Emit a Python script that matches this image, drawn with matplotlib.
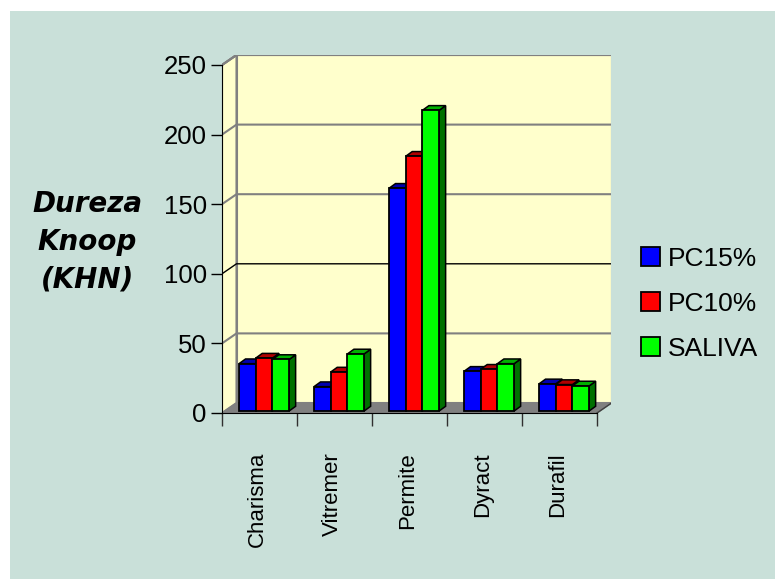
import matplotlib
matplotlib.use('Agg')
import matplotlib.pyplot as plt
from matplotlib.patches import Rectangle, Polygon
import numpy as np

plt.rcParams['font.family'] = ['Liberation Sans', 'DejaVu Sans']

materials = ['Charisma', 'Vitremer', 'Permite', 'Dyract', 'Durafil']
series = ['PC15%', 'PC10%', 'SALIVA']
pc15 = [34, 17.5, 160, 28.5, 19.5]
pc10 = [38, 28, 183, 30, 19]
saliva = [37, 41, 216, 34, 18]
y_ticks = [0, 50, 100, 150, 200, 250]

colors = ['#0000FF', '#FF0000', '#00FF00']
tops = ['#0000B0', '#B00000', '#00B000']
sides = ['#000080', '#800000', '#007000']
bg = '#C9E0D9'
wall = '#FFFFCC'
grey = '#808080'

W, H = 775, 579
fig = plt.figure(figsize=(W / 100, H / 100), dpi=100)
fig.patch.set_facecolor('white')
fig.add_artist(Rectangle((10 / W, 0), 1, 1 - 11 / H, transform=fig.transFigure,
                         facecolor=bg, edgecolor='none', zorder=-10))

# axes box: front axis at x=222px, back wall right at 611px, 0 at y=413px, top at 55px
ppu_x = 75.0
ppu_y = 1.392
ax = fig.add_axes([222 / W, (H - 413) / H, 389 / W, 358 / H])
ax.set_facecolor('none')
ax.set_xlim(-0.5, -0.5 + 389 / ppu_x)
ax.set_ylim(0, 358 / ppu_y)

DX, DY = 14.5 / ppu_x, 10 / ppu_y
n = len(materials)
x_lo, x_hi = -0.5, n - 0.5

# walls and floor
ax.add_patch(Rectangle((x_lo + DX, DY), n, 250, facecolor=wall, edgecolor=grey, lw=1.5, zorder=0))
ax.add_patch(Polygon([(x_lo, 0), (x_lo + DX, DY), (x_lo + DX, 250 + DY), (x_lo, 250)],
                     facecolor=wall, edgecolor=grey, lw=1.5, zorder=0))
ax.add_patch(Polygon([(x_lo, 0), (x_hi, 0), (x_hi + DX, DY), (x_lo + DX, DY)],
                     facecolor=grey, edgecolor=grey, lw=1, zorder=0.6))
for v in y_ticks[1:]:
    c = 'black' if v == 100 else grey
    lw = 1 if v == 100 else 1.5
    ax.plot([x_lo, x_lo + DX, x_hi + DX], [v, v + DY, v + DY], color=c, lw=lw, zorder=0.5)
ax.plot([x_lo, x_lo + DX], [250, 250 + DY], color=grey, lw=1.5, zorder=0.5)

# bars
bw = 16.7 / ppu_x
b0 = 0.2 * DY
bdx, bdy = 6.5 / ppu_x, 4.7 / ppu_y
centers = np.arange(n) + 0.061
handles = []
z = 2
for k, vals in enumerate([pc15, pc10, saliva]):
    xs = centers + (k - 1) * bw
    bars = ax.bar(xs, vals, bw, bottom=b0, color=colors[k], edgecolor='black',
                  lw=1.3, label=series[k], zorder=z + k)
    handles.append(bars)
for i in range(n):
    for k, vals in enumerate([pc15, pc10, saliva]):
        x0 = centers[i] + (k - 1) * bw - bw / 2
        x1 = x0 + bw
        t = b0 + vals[i]
        zz = z + k - 0.5
        ax.add_patch(Polygon([(x1, b0), (x1 + bdx, b0 + bdy), (x1 + bdx, t + bdy), (x1, t)],
                             facecolor=sides[k], edgecolor='black', lw=1.1, zorder=zz))
        ax.add_patch(Polygon([(x0, t), (x1, t), (x1 + bdx, t + bdy), (x0 + bdx, t + bdy)],
                             facecolor=tops[k], edgecolor='black', lw=1.1, zorder=zz))

# axes lines and ticks
for s in ['top', 'right']:
    ax.spines[s].set_visible(False)
ax.spines['left'].set_bounds(0, 250)
ax.spines['left'].set_position(('data', x_lo))
ax.spines['bottom'].set_bounds(x_lo, x_hi)
ax.spines['left'].set_zorder(5)
ax.spines['bottom'].set_zorder(5)
ax.plot([x_hi, x_hi + DX], [0, DY], color='#404040', lw=1, zorder=1)

ax.set_yticks(y_ticks)
ax.set_yticklabels([str(v) for v in y_ticks])
ax.tick_params(axis='y', length=8, width=1, labelsize=18.5, pad=3)
ax.set_xticks(np.arange(n + 1) - 0.5)
ax.set_xticklabels([])
ax.tick_params(axis='x', which='major', length=9, width=1, color='#303030')
ax.set_xticks(np.arange(n) - 0.03, minor=True)
ax.set_xticklabels(materials, minor=True, rotation=90, fontsize=16)
ax.tick_params(axis='x', which='minor', length=0, pad=28)

fig.text(87 / W, 1 - 242 / H, 'Dureza\nKnoop\n(KHN)', ha='center', va='center',
         fontsize=20, fontweight='bold', fontstyle='italic', family='DejaVu Sans',
         linespacing=1.45)

leg = fig.legend(handles=handles, labels=series, loc='upper left',
                 bbox_to_anchor=(630 / W, 1 - 236 / H), frameon=False, fontsize=19,
                 handlelength=0.72, handleheight=0.72, handletextpad=0.3,
                 labelspacing=0.8, borderaxespad=0)

fig.savefig('out.png', dpi=100, facecolor=fig.get_facecolor())
